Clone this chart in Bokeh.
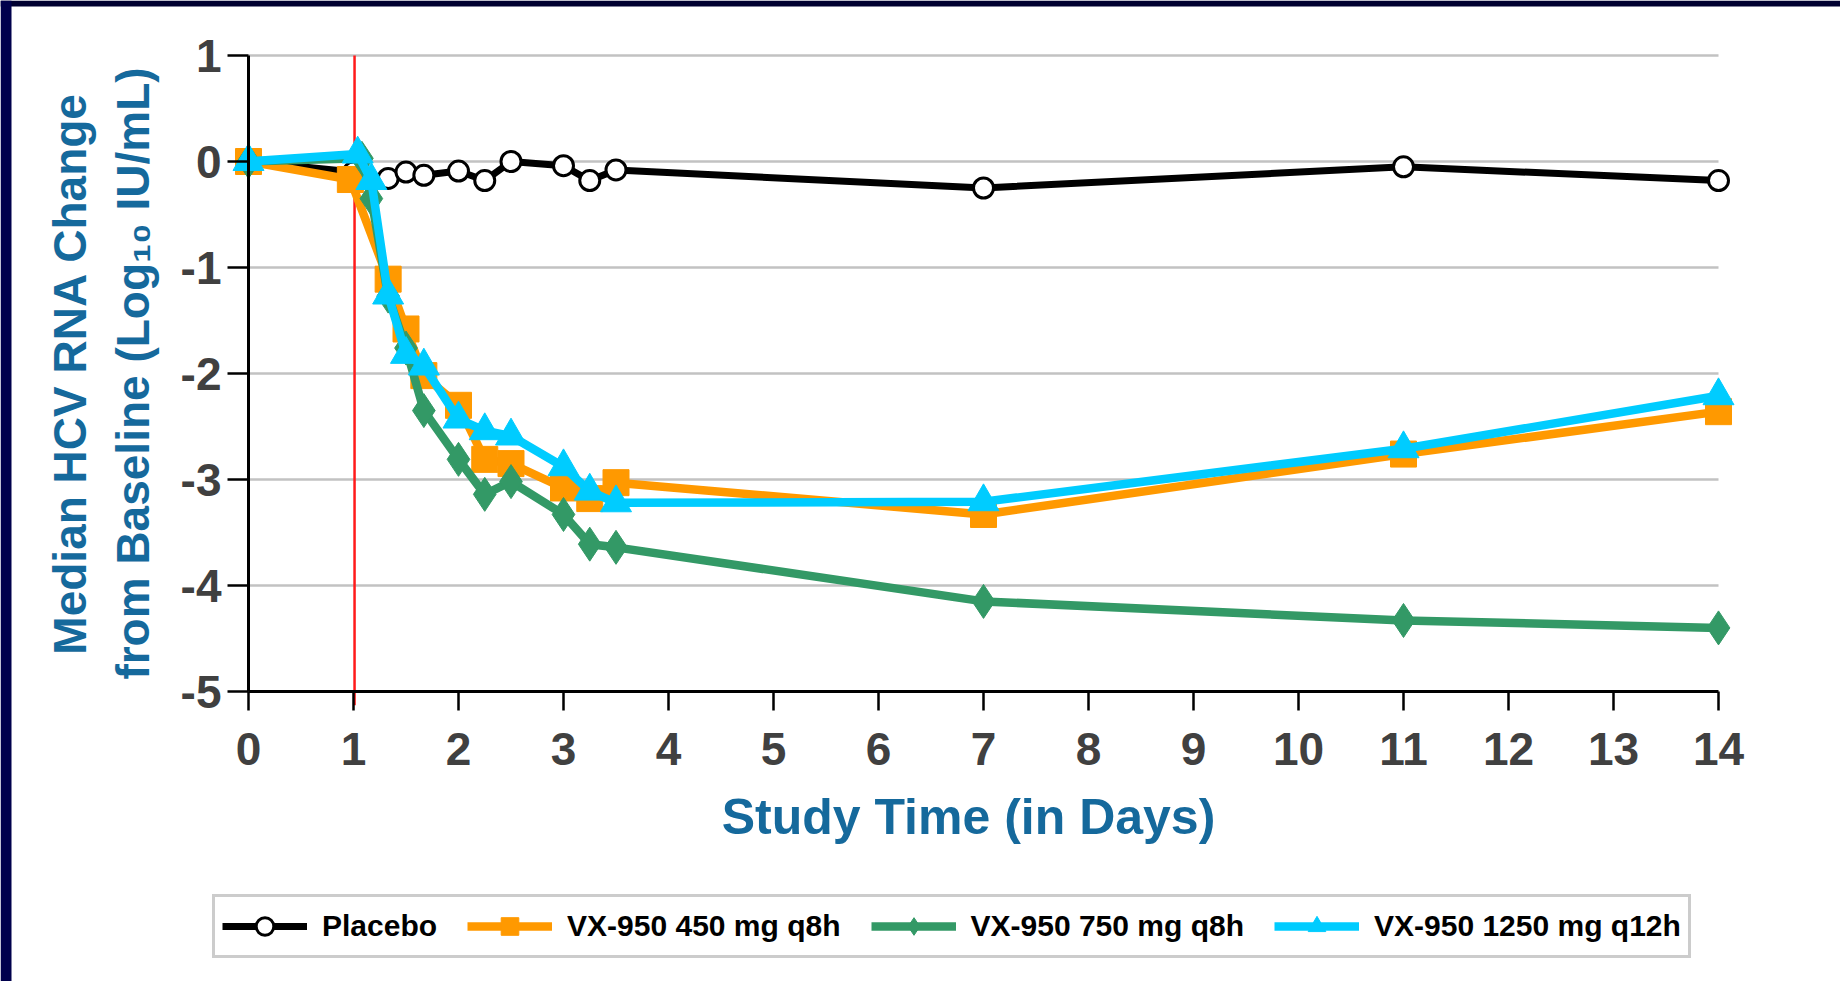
from bokeh.plotting import figure
from bokeh.models import Range1d, Legend, LegendItem, FixedTicker, BoxAnnotation, Label
from bokeh.embed import file_html
from bokeh.resources import INLINE

# ---- data ----
x_ticks = list(range(0, 15))
y_ticks = [-5, -4, -3, -2, -1, 0, 1]
grid_levels = [-4, -3, -2, -1, 0, 1]
dose_day = 1.01

days_placebo = [0, 1.0, 1.33, 1.5, 1.67, 2, 2.25, 2.5, 3, 3.25, 3.5, 7, 11, 14]
placebo = [0, -0.10, -0.16, -0.10, -0.13, -0.09, -0.18, 0.0, -0.04, -0.18, -0.08, -0.25, -0.05, -0.18]

days_450 = [0, 0.97, 1.33, 1.5, 1.67, 2, 2.25, 2.5, 3, 3.25, 3.5, 7, 11, 14]
vx450 = [0, -0.17, -1.11, -1.58, -2.02, -2.30, -2.81, -2.85, -3.08, -3.18, -3.03, -3.33, -2.76, -2.36]

days_750 = [0, 1.08, 1.17, 1.33, 1.5, 1.67, 2, 2.25, 2.5, 3, 3.25, 3.5, 7, 11, 14]
vx750 = [0, 0.03, -0.35, -1.27, -1.76, -2.35, -2.81, -3.14, -3.02, -3.33, -3.61, -3.64, -4.15, -4.33, -4.40]

days_1250 = [0, 1.04, 1.17, 1.33, 1.5, 1.67, 2, 2.25, 2.5, 3, 3.25, 3.5, 7, 11, 14]
vx1250 = [0, 0.07, -0.18, -1.26, -1.82, -1.93, -2.43, -2.54, -2.59, -2.88, -3.11, -3.22, -3.21, -2.71, -2.21]

labels = ["Placebo", "VX-950 450 mg q8h", "VX-950 750 mg q8h", "VX-950 1250 mg q12h"]
x_title = "Study Time (in Days)"
y_title = "Median HCV RNA Change\nfrom Baseline (Log\u2081\u2080 IU/mL)"

FONT = "Liberation Sans"
TICK_COLOR = "#404040"
TITLE_COLOR = "#15699c"

# ---- layout geometry (pixels) ----
W, H = 1840, 981
LEFT_BAND, TOP_BAND = 11, 6
X0_PX, PX_PER_DAY = 248, 105.0        # x=0 position, scale
YTOP_PX, PX_PER_UNIT = 55, 106.0      # y=1 position, scale

x_start = -X0_PX / PX_PER_DAY
x_end = (W - X0_PX) / PX_PER_DAY
y_end = y_ticks[-1] + YTOP_PX / PX_PER_UNIT
y_start = y_end - H / PX_PER_UNIT


def px_to_x(px):
    return x_start + px / PX_PER_DAY


def px_to_y(py):
    return y_end - py / PX_PER_UNIT


p = figure(width=W, height=H,
           x_range=Range1d(x_start, x_end), y_range=Range1d(y_start, y_end),
           output_backend="svg", toolbar_location=None,
           min_border=0, min_border_left=0, min_border_right=0,
           min_border_top=0, min_border_bottom=0)
p.outline_line_color = None
p.xgrid.visible = False
p.ygrid.visible = False
p.background_fill_color = "white"
p.border_fill_color = "white"

# dark slide frame (top band and left band)
p.add_layout(BoxAnnotation(left=x_start, right=x_end, bottom=px_to_y(TOP_BAND), top=y_end,
                           fill_color="#000030", fill_alpha=1.0, line_color=None))
p.add_layout(BoxAnnotation(left=x_start, right=px_to_x(LEFT_BAND), bottom=y_start, top=y_end,
                           fill_color="#00004c", fill_alpha=1.0, line_color=None))

# grid lines only between the axis limits
p.segment(x0=x_ticks[0], x1=x_ticks[-1], y0=grid_levels, y1=grid_levels,
          line_color="#c2c2c2", line_width=2.5)

# dosing start (red vertical line)
p.segment(x0=[dose_day], x1=[dose_day], y0=[y_ticks[0] - 0.13], y1=[y_ticks[-1]],
          line_color="#ff1a1a", line_width=2.5)

# series
l0 = p.line(days_placebo, placebo, line_color="black", line_width=7)
s0 = p.scatter(days_placebo, placebo, marker="circle", size=20,
               fill_color="white", line_color="black", line_width=3)
l1 = p.line(days_450, vx450, line_color="#ff9900", line_width=8.5)
s1 = p.scatter(days_450, vx450, marker="square", size=26,
               fill_color="#ff9900", line_color="#ff9900")
l2 = p.line(days_750, vx750, line_color="#339966", line_width=8.5)
s2 = p.scatter(days_750, vx750, marker="diamond", size=34,
               fill_color="#339966", line_color="#339966")
l3 = p.line(days_1250, vx1250, line_color="#00ccff", line_width=8.5)
s3 = p.scatter(days_1250, vx1250, marker="triangle", size=31,
               fill_color="#00ccff", line_color="#00ccff")

# axes
for ax in (p.xaxis, p.yaxis):
    ax.axis_line_color = "black"
    ax.axis_line_width = 3
    ax.major_tick_line_color = "black"
    ax.major_tick_line_width = 2.5
    ax.major_tick_in = 0
    ax.minor_tick_line_color = None
    ax.major_label_text_font = FONT
    ax.major_label_text_font_style = "bold"
    ax.major_label_text_font_size = "46px"
    ax.major_label_text_color = TICK_COLOR
    ax.axis_label_text_font = FONT
    ax.axis_label_text_font_style = "bold"
    ax.axis_label_text_color = TITLE_COLOR

p.xaxis.ticker = FixedTicker(ticks=x_ticks)
p.xaxis.major_label_overrides = {t: str(t) for t in x_ticks}
p.xaxis.bounds = (x_ticks[0], x_ticks[-1])
p.xaxis.fixed_location = y_ticks[0]
p.xaxis.major_tick_out = 19
p.xaxis.major_label_standoff = 22

p.yaxis.ticker = FixedTicker(ticks=y_ticks)
p.yaxis.major_label_overrides = {t: str(t) for t in y_ticks}
p.yaxis.bounds = (y_ticks[0], y_ticks[-1])
p.yaxis.fixed_location = x_ticks[0]
p.yaxis.major_tick_out = 21
p.yaxis.major_label_standoff = 6
p.yaxis.axis_label = y_title
p.yaxis.axis_label_text_font_size = "46px"
p.yaxis.axis_label_standoff = 19

# x-axis title (placed slightly left of the axis centre, as in the slide)
p.add_layout(Label(x=px_to_x(968), y=px_to_y(816), text=x_title,
                   text_align="center", text_baseline="alphabetic",
                   text_font=FONT, text_font_style="bold", text_font_size="50px",
                   text_color=TITLE_COLOR))

legend = Legend(
    items=[LegendItem(label=labels[0], renderers=[l0, s0]),
           LegendItem(label=labels[1], renderers=[l1, s1]),
           LegendItem(label=labels[2], renderers=[l2, s2]),
           LegendItem(label=labels[3], renderers=[l3, s3])],
    orientation="horizontal", location=(212, H - 958),
    glyph_width=85, glyph_height=44, label_standoff=15, spacing=30, padding=7,
    label_text_font=FONT, label_text_font_style="bold", label_text_font_size="30px",
    label_text_color="black",
    border_line_color="#9a9a9a", border_line_width=3,
    background_fill_color="white", background_fill_alpha=1.0, margin=0)
p.add_layout(legend, "center")

open("out.html", "w").write(file_html(p, INLINE))
